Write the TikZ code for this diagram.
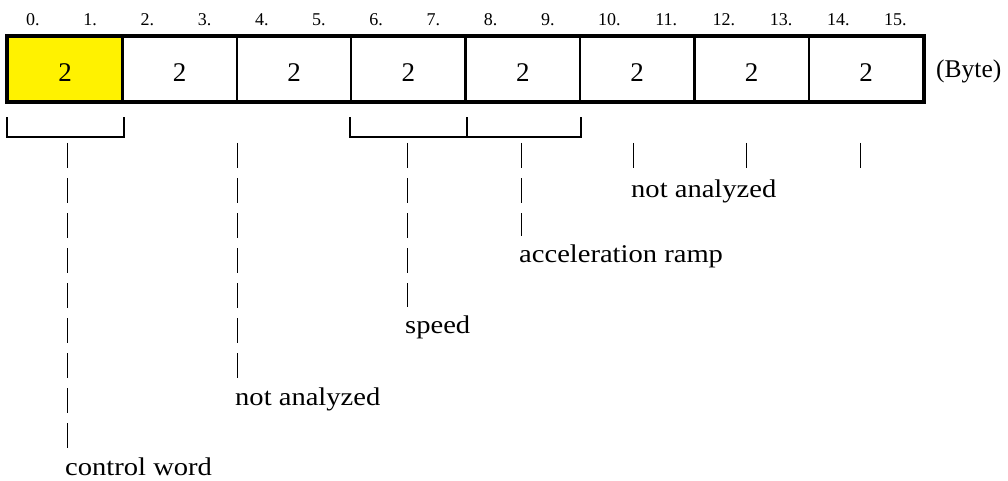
\documentclass[tikz,border=0pt]{standalone}
\usepackage{fontspec}
\setmainfont[FakeStretch=1.12]{Liberation Serif}
\newfontfamily\bytefont{Liberation Serif}
\usetikzlibrary{positioning}

\begin{document}
\begin{tikzpicture}[x=1pt, y=-1pt,
 cell/.style={rectangle, draw, line width=2.5pt, minimum width=114.4pt,
   minimum height=64pt, inner sep=0pt, text height=26pt, text depth=0pt,
   font=\bytefont\fontsize{27}{30}\selectfont},
 bytenum/.style={anchor=base west, inner sep=0pt, font=\bytefont\fontsize{18}{21}\selectfont},
 note/.style={anchor=base west, inner sep=0pt, font=\fontsize{25.5}{30}\selectfont},
 bar/.style={line width=0.9pt, dash pattern=on 25pt off 10pt},
 bracket/.style={line width=2pt}]

  \useasboundingbox (0,0) rectangle (1008,481);

  \node[cell, fill=yellow] (c1) at (65.2,69) {2};
  \foreach \i in {2,...,8}
   \node[cell] (c\i) at ({8+114.4*(\i-0.5)},69) {2};
  \draw[line width=4pt] (c1.north west) rectangle (c8.south east);
  \node[note, font=\bytefont\fontsize{25.5}{30}\selectfont] (byte) at (936,78) {(Byte)};

  \foreach \b in {0,...,15}
   \node[bytenum] (b\b) at ({8+57.2*\b+18},26) {\b.};

  % brackets under the cells
  \draw[bracket] ([yshift=-15pt]c1.south west) -- ([yshift=-35pt]c1.south west)
    -- ([yshift=-35pt]c1.south east) -- ([yshift=-15pt]c1.south east);
  \draw[bracket] ([yshift=-15pt]c4.south west) -- ([yshift=-35pt]c4.south west)
    -- ([yshift=-35pt]c5.south east) -- ([yshift=-15pt]c5.south east);
  \draw[bracket] ([yshift=-15pt]c4.south east) -- ([yshift=-35pt]c4.south east);

  \foreach \n/\x in {t1/67, t2/237, t3/407, t4/521, t5/633, t6/746, t7/860}
   \coordinate (\n) at (\x,143);

  \node[note] (cw) at (65,475) {control word};
  \node[note] (na1) at (235,405) {not analyzed};
  \node[note] (sp) at (405,333) {speed};
  \node[note] (ar) at (519,262) {acceleration ramp};
  \node[note] (na2) at (631,197) {not analyzed};

  \foreach \t/\l in {t1/cw, t2/na1, t3/sp, t4/ar, t5/na2, t6/na2, t7/na2} {
   \draw[bar] (\t) -- ([yshift=8pt]\l.north -| \t);}
\end{tikzpicture}
\end{document}
